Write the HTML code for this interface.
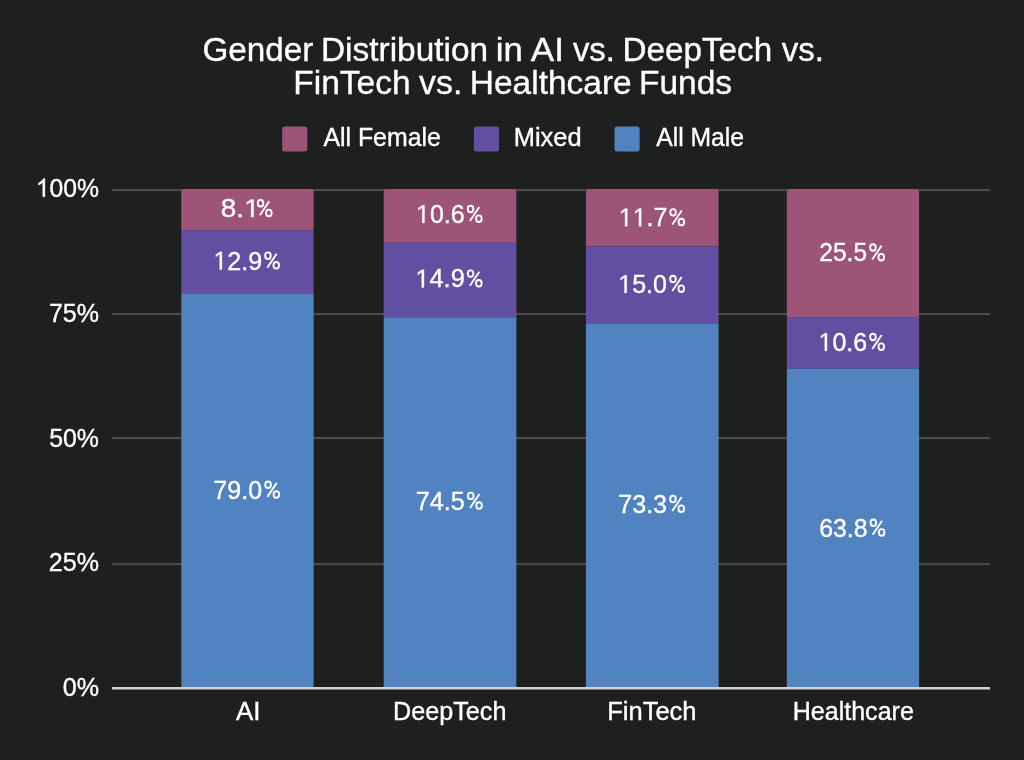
<!DOCTYPE html>
<html><head><meta charset="utf-8"><style>
html,body{margin:0;padding:0;background:#1e201f;}
svg{display:block;}
text{font-family:"Liberation Sans",sans-serif;font-kerning:normal;stroke:#fff;stroke-width:0.35px;}
.h{fill-opacity:0;stroke-opacity:0;}
</style></head><body>
<svg width="1024" height="760" viewBox="0 0 1024 760">
<defs><filter id="b" x="0" y="0" width="100%" height="100%" color-interpolation-filters="sRGB"><feGaussianBlur stdDeviation="0.45" color-interpolation-filters="sRGB"/></filter></defs>
<g filter="url(#b)">
<rect width="1024" height="760" fill="#1e201f"/>
<rect x="112" y="189.0" width="878" height="2.1" fill="#4b4c4b"/>
<rect x="112" y="313.0" width="878" height="2.1" fill="#4b4c4b"/>
<rect x="112" y="437.0" width="878" height="2.1" fill="#4b4c4b"/>
<rect x="112" y="563.1" width="878" height="2.1" fill="#4b4c4b"/>
<path d="M181.30,230.20 L181.30,192.00 Q181.30,189.00 184.30,189.00 L310.60,189.00 Q313.60,189.00 313.60,192.00 L313.60,230.20 Z" fill="#9d5479"/>
<rect x="181.30" y="230.20" width="132.30" height="63.80" fill="#634fa1"/>
<rect x="181.30" y="294.00" width="132.30" height="393.00" fill="#5283c1"/>
<path d="M383.70,242.70 L383.70,192.00 Q383.70,189.00 386.70,189.00 L513.40,189.00 Q516.40,189.00 516.40,192.00 L516.40,242.70 Z" fill="#9d5479"/>
<rect x="383.70" y="242.70" width="132.70" height="74.60" fill="#634fa1"/>
<rect x="383.70" y="317.30" width="132.70" height="369.70" fill="#5283c1"/>
<path d="M585.90,246.60 L585.90,192.00 Q585.90,189.00 588.90,189.00 L715.60,189.00 Q718.60,189.00 718.60,192.00 L718.60,246.60 Z" fill="#9d5479"/>
<rect x="585.90" y="246.60" width="132.70" height="76.80" fill="#634fa1"/>
<rect x="585.90" y="323.40" width="132.70" height="363.60" fill="#5283c1"/>
<path d="M786.80,317.10 L786.80,192.00 Q786.80,189.00 789.80,189.00 L916.10,189.00 Q919.10,189.00 919.10,192.00 L919.10,317.10 Z" fill="#9d5479"/>
<rect x="786.80" y="317.10" width="132.30" height="51.50" fill="#634fa1"/>
<rect x="786.80" y="368.60" width="132.30" height="318.40" fill="#5283c1"/>
<text x="220.89" y="217.09" font-size="25.7" textLength="38.74" lengthAdjust="spacingAndGlyphs" fill="#ffffff" style="font-kerning:none">8.<tspan class="h">1</tspan></text><path d="M515,0 L515,1237 L197,1010 L197,1180 L530,1409 L696,1409 L696,0 Z" transform="translate(244.130,217.091) scale(0.013607,-0.012549)" fill="#ffffff" stroke="#ffffff" stroke-width="0.35" vector-effect="non-scaling-stroke"/>
<ellipse cx="260.55" cy="203.19" rx="2.80" ry="3.25" fill="none" stroke="#ffffff" stroke-width="1.9"/><ellipse cx="268.85" cy="212.89" rx="2.80" ry="3.30" fill="none" stroke="#ffffff" stroke-width="1.9"/><line x1="269.25" y1="201.29" x2="259.85" y2="215.29" stroke="#ffffff" stroke-width="1.9"/>
<text x="213.39" y="269.54" font-size="25.7" textLength="48.80" lengthAdjust="spacingAndGlyphs" fill="#ffffff" style="font-kerning:none"><tspan class="h">1</tspan>2.9</text><path d="M515,0 L515,1237 L197,1010 L197,1180 L530,1409 L696,1409 L696,0 Z" transform="translate(213.388,269.541) scale(0.012243,-0.012549)" fill="#ffffff" stroke="#ffffff" stroke-width="0.35" vector-effect="non-scaling-stroke"/>
<ellipse cx="267.95" cy="255.64" rx="2.80" ry="3.25" fill="none" stroke="#ffffff" stroke-width="1.9"/><ellipse cx="276.25" cy="265.34" rx="2.80" ry="3.30" fill="none" stroke="#ffffff" stroke-width="1.9"/><line x1="276.65" y1="253.74" x2="267.25" y2="267.74" stroke="#ffffff" stroke-width="1.9"/>
<text x="213.32" y="498.69" font-size="25.7" textLength="48.76" lengthAdjust="spacingAndGlyphs" fill="#ffffff" style="font-kerning:none">79.0</text>
<ellipse cx="268.05" cy="484.79" rx="2.80" ry="3.25" fill="none" stroke="#ffffff" stroke-width="1.9"/><ellipse cx="276.35" cy="494.49" rx="2.80" ry="3.30" fill="none" stroke="#ffffff" stroke-width="1.9"/><line x1="276.75" y1="482.89" x2="267.35" y2="496.89" stroke="#ffffff" stroke-width="1.9"/>
<text x="415.99" y="222.89" font-size="25.7" textLength="48.71" lengthAdjust="spacingAndGlyphs" fill="#ffffff" style="font-kerning:none"><tspan class="h">1</tspan>0.6</text><path d="M515,0 L515,1237 L197,1010 L197,1180 L530,1409 L696,1409 L696,0 Z" transform="translate(415.993,222.891) scale(0.012220,-0.012549)" fill="#ffffff" stroke="#ffffff" stroke-width="0.35" vector-effect="non-scaling-stroke"/>
<ellipse cx="470.55" cy="208.99" rx="2.80" ry="3.25" fill="none" stroke="#ffffff" stroke-width="1.9"/><ellipse cx="478.85" cy="218.69" rx="2.80" ry="3.30" fill="none" stroke="#ffffff" stroke-width="1.9"/><line x1="479.25" y1="207.09" x2="469.85" y2="221.09" stroke="#ffffff" stroke-width="1.9"/>
<text x="415.36" y="287.49" font-size="25.7" textLength="49.45" lengthAdjust="spacingAndGlyphs" fill="#ffffff" style="font-kerning:none"><tspan class="h">1</tspan>4.9</text><path d="M515,0 L515,1237 L197,1010 L197,1180 L530,1409 L696,1409 L696,0 Z" transform="translate(415.356,287.491) scale(0.012405,-0.012549)" fill="#ffffff" stroke="#ffffff" stroke-width="0.35" vector-effect="non-scaling-stroke"/>
<ellipse cx="470.55" cy="273.59" rx="2.80" ry="3.25" fill="none" stroke="#ffffff" stroke-width="1.9"/><ellipse cx="478.85" cy="283.29" rx="2.80" ry="3.30" fill="none" stroke="#ffffff" stroke-width="1.9"/><line x1="479.25" y1="271.69" x2="469.85" y2="285.69" stroke="#ffffff" stroke-width="1.9"/>
<text x="415.81" y="509.79" font-size="25.7" textLength="49.05" lengthAdjust="spacingAndGlyphs" fill="#ffffff" style="font-kerning:none">74.5</text>
<ellipse cx="470.75" cy="495.89" rx="2.80" ry="3.25" fill="none" stroke="#ffffff" stroke-width="1.9"/><ellipse cx="479.05" cy="505.59" rx="2.80" ry="3.30" fill="none" stroke="#ffffff" stroke-width="1.9"/><line x1="479.45" y1="493.99" x2="470.05" y2="507.99" stroke="#ffffff" stroke-width="1.9"/>
<text x="618.80" y="226.24" font-size="25.7" textLength="48.55" lengthAdjust="spacingAndGlyphs" fill="#ffffff" style="font-kerning:none"><tspan class="h">1</tspan><tspan class="h">1</tspan>.7</text><path d="M515,0 L515,1237 L197,1010 L197,1180 L530,1409 L696,1409 L696,0 Z" transform="translate(618.800,226.241) scale(0.012181,-0.012549)" fill="#ffffff" stroke="#ffffff" stroke-width="0.35" vector-effect="non-scaling-stroke"/><path d="M515,0 L515,1237 L197,1010 L197,1180 L530,1409 L696,1409 L696,0 Z" transform="translate(632.675,226.241) scale(0.012181,-0.012549)" fill="#ffffff" stroke="#ffffff" stroke-width="0.35" vector-effect="non-scaling-stroke"/>
<ellipse cx="673.05" cy="212.34" rx="2.80" ry="3.25" fill="none" stroke="#ffffff" stroke-width="1.9"/><ellipse cx="681.35" cy="222.04" rx="2.80" ry="3.30" fill="none" stroke="#ffffff" stroke-width="1.9"/><line x1="681.75" y1="210.44" x2="672.35" y2="224.44" stroke="#ffffff" stroke-width="1.9"/>
<text x="618.19" y="292.89" font-size="25.7" textLength="48.79" lengthAdjust="spacingAndGlyphs" fill="#ffffff" style="font-kerning:none"><tspan class="h">1</tspan>5.0</text><path d="M515,0 L515,1237 L197,1010 L197,1180 L530,1409 L696,1409 L696,0 Z" transform="translate(618.189,292.891) scale(0.012240,-0.012549)" fill="#ffffff" stroke="#ffffff" stroke-width="0.35" vector-effect="non-scaling-stroke"/>
<ellipse cx="672.95" cy="278.99" rx="2.80" ry="3.25" fill="none" stroke="#ffffff" stroke-width="1.9"/><ellipse cx="681.25" cy="288.69" rx="2.80" ry="3.30" fill="none" stroke="#ffffff" stroke-width="1.9"/><line x1="681.65" y1="277.09" x2="672.25" y2="291.09" stroke="#ffffff" stroke-width="1.9"/>
<text x="618.21" y="512.89" font-size="25.7" textLength="48.89" lengthAdjust="spacingAndGlyphs" fill="#ffffff" style="font-kerning:none">73.3</text>
<ellipse cx="672.95" cy="498.99" rx="2.80" ry="3.25" fill="none" stroke="#ffffff" stroke-width="1.9"/><ellipse cx="681.25" cy="508.69" rx="2.80" ry="3.30" fill="none" stroke="#ffffff" stroke-width="1.9"/><line x1="681.65" y1="497.09" x2="672.25" y2="511.09" stroke="#ffffff" stroke-width="1.9"/>
<text x="819.27" y="261.34" font-size="25.7" textLength="47.76" lengthAdjust="spacingAndGlyphs" fill="#ffffff" style="font-kerning:none">25.5</text>
<ellipse cx="872.95" cy="247.44" rx="2.80" ry="3.25" fill="none" stroke="#ffffff" stroke-width="1.9"/><ellipse cx="881.25" cy="257.14" rx="2.80" ry="3.30" fill="none" stroke="#ffffff" stroke-width="1.9"/><line x1="881.65" y1="245.54" x2="872.25" y2="259.54" stroke="#ffffff" stroke-width="1.9"/>
<text x="818.50" y="350.89" font-size="25.7" textLength="48.60" lengthAdjust="spacingAndGlyphs" fill="#ffffff" style="font-kerning:none"><tspan class="h">1</tspan>0.6</text><path d="M515,0 L515,1237 L197,1010 L197,1180 L530,1409 L696,1409 L696,0 Z" transform="translate(818.498,350.891) scale(0.012192,-0.012549)" fill="#ffffff" stroke="#ffffff" stroke-width="0.35" vector-effect="non-scaling-stroke"/>
<ellipse cx="872.95" cy="336.99" rx="2.80" ry="3.25" fill="none" stroke="#ffffff" stroke-width="1.9"/><ellipse cx="881.25" cy="346.69" rx="2.80" ry="3.30" fill="none" stroke="#ffffff" stroke-width="1.9"/><line x1="881.65" y1="335.09" x2="872.25" y2="349.09" stroke="#ffffff" stroke-width="1.9"/>
<text x="819.24" y="536.64" font-size="25.7" textLength="48.24" lengthAdjust="spacingAndGlyphs" fill="#ffffff" style="font-kerning:none">63.8</text>
<ellipse cx="873.35" cy="522.74" rx="2.80" ry="3.25" fill="none" stroke="#ffffff" stroke-width="1.9"/><ellipse cx="881.65" cy="532.44" rx="2.80" ry="3.30" fill="none" stroke="#ffffff" stroke-width="1.9"/><line x1="882.05" y1="520.84" x2="872.65" y2="534.84" stroke="#ffffff" stroke-width="1.9"/>
<rect x="112" y="687.0" width="878" height="2.5" fill="#d2d2d2"/>
<text x="35.71" y="196.80" font-size="25.6" textLength="63.28" lengthAdjust="spacingAndGlyphs" fill="#ffffff"><tspan class="h">1</tspan>00%</text><path d="M763,0 L583,0 L583,1147 Q520,1087 418,1027 Q316,968 223,933 L223,1107 Q374,1178 487,1279 Q600,1380 647,1466 L763,1466 Z" transform="translate(35.706,196.800) scale(0.012080,-0.012500)" fill="#ffffff" stroke="#ffffff" stroke-width="0.35" vector-effect="non-scaling-stroke"/>
<text x="48.92" y="321.80" font-size="25.6" textLength="50.07" lengthAdjust="spacingAndGlyphs" fill="#ffffff">75%</text>
<text x="49.20" y="446.50" font-size="25.6" textLength="49.78" lengthAdjust="spacingAndGlyphs" fill="#ffffff">50%</text>
<text x="48.84" y="570.80" font-size="25.6" textLength="50.15" lengthAdjust="spacingAndGlyphs" fill="#ffffff">25%</text>
<text x="62.72" y="695.70" font-size="25.6" textLength="36.28" lengthAdjust="spacingAndGlyphs" fill="#ffffff">0%</text>
<text x="236.05" y="719.60" font-size="24.9" textLength="24.44" lengthAdjust="spacingAndGlyphs" fill="#ffffff">AI</text>
<text x="393.14" y="719.60" font-size="24.9" textLength="113.30" lengthAdjust="spacingAndGlyphs" fill="#ffffff">DeepTech</text>
<text x="607.21" y="719.60" font-size="24.9" textLength="89.35" lengthAdjust="spacingAndGlyphs" fill="#ffffff">FinTech</text>
<text x="792.75" y="719.60" font-size="24.9" textLength="121.07" lengthAdjust="spacingAndGlyphs" fill="#ffffff">Healthcare</text>
<text x="202.43" y="60.90" font-size="33" textLength="110.92" lengthAdjust="spacingAndGlyphs" fill="#ffffff">Gender</text>
<text x="320.96" y="60.90" font-size="33" textLength="167.21" lengthAdjust="spacingAndGlyphs" fill="#ffffff">Distribution</text>
<text x="495.77" y="60.90" font-size="33" textLength="27.09" lengthAdjust="spacingAndGlyphs" fill="#ffffff">in</text>
<text x="530.73" y="60.90" font-size="33" textLength="33.21" lengthAdjust="spacingAndGlyphs" fill="#ffffff">AI</text>
<text x="572.89" y="60.90" font-size="33" textLength="42.01" lengthAdjust="spacingAndGlyphs" fill="#ffffff">vs.</text>
<text x="622.58" y="60.90" font-size="33" textLength="149.58" lengthAdjust="spacingAndGlyphs" fill="#ffffff">DeepTech</text>
<text x="781.79" y="60.90" font-size="33" textLength="42.23" lengthAdjust="spacingAndGlyphs" fill="#ffffff">vs.</text>
<text x="293.35" y="93.50" font-size="33" textLength="117.22" lengthAdjust="spacingAndGlyphs" fill="#ffffff">FinTech</text>
<text x="419.08" y="93.50" font-size="33" textLength="43.20" lengthAdjust="spacingAndGlyphs" fill="#ffffff">vs.</text>
<text x="469.85" y="93.50" font-size="33" textLength="161.83" lengthAdjust="spacingAndGlyphs" fill="#ffffff">Healthcare</text>
<text x="638.95" y="93.50" font-size="33" textLength="93.06" lengthAdjust="spacingAndGlyphs" fill="#ffffff">Funds</text>
<rect x="282.2" y="126.5" width="25.1" height="25.1" rx="2.5" fill="#9d5479"/>
<text x="323.45" y="145.80" font-size="24.9" textLength="117.35" lengthAdjust="spacingAndGlyphs" fill="#ffffff">All Female</text>
<rect x="473.9" y="126.5" width="25.1" height="25.1" rx="2.5" fill="#634fa1"/>
<text x="513.81" y="145.80" font-size="24.9" textLength="67.82" lengthAdjust="spacingAndGlyphs" fill="#ffffff">Mixed</text>
<rect x="614.5" y="126.5" width="25.1" height="25.1" rx="2.5" fill="#5283c1"/>
<text x="656.15" y="145.80" font-size="24.9" textLength="87.95" lengthAdjust="spacingAndGlyphs" fill="#ffffff">All Male</text>
</g>
</svg>
</body></html>
